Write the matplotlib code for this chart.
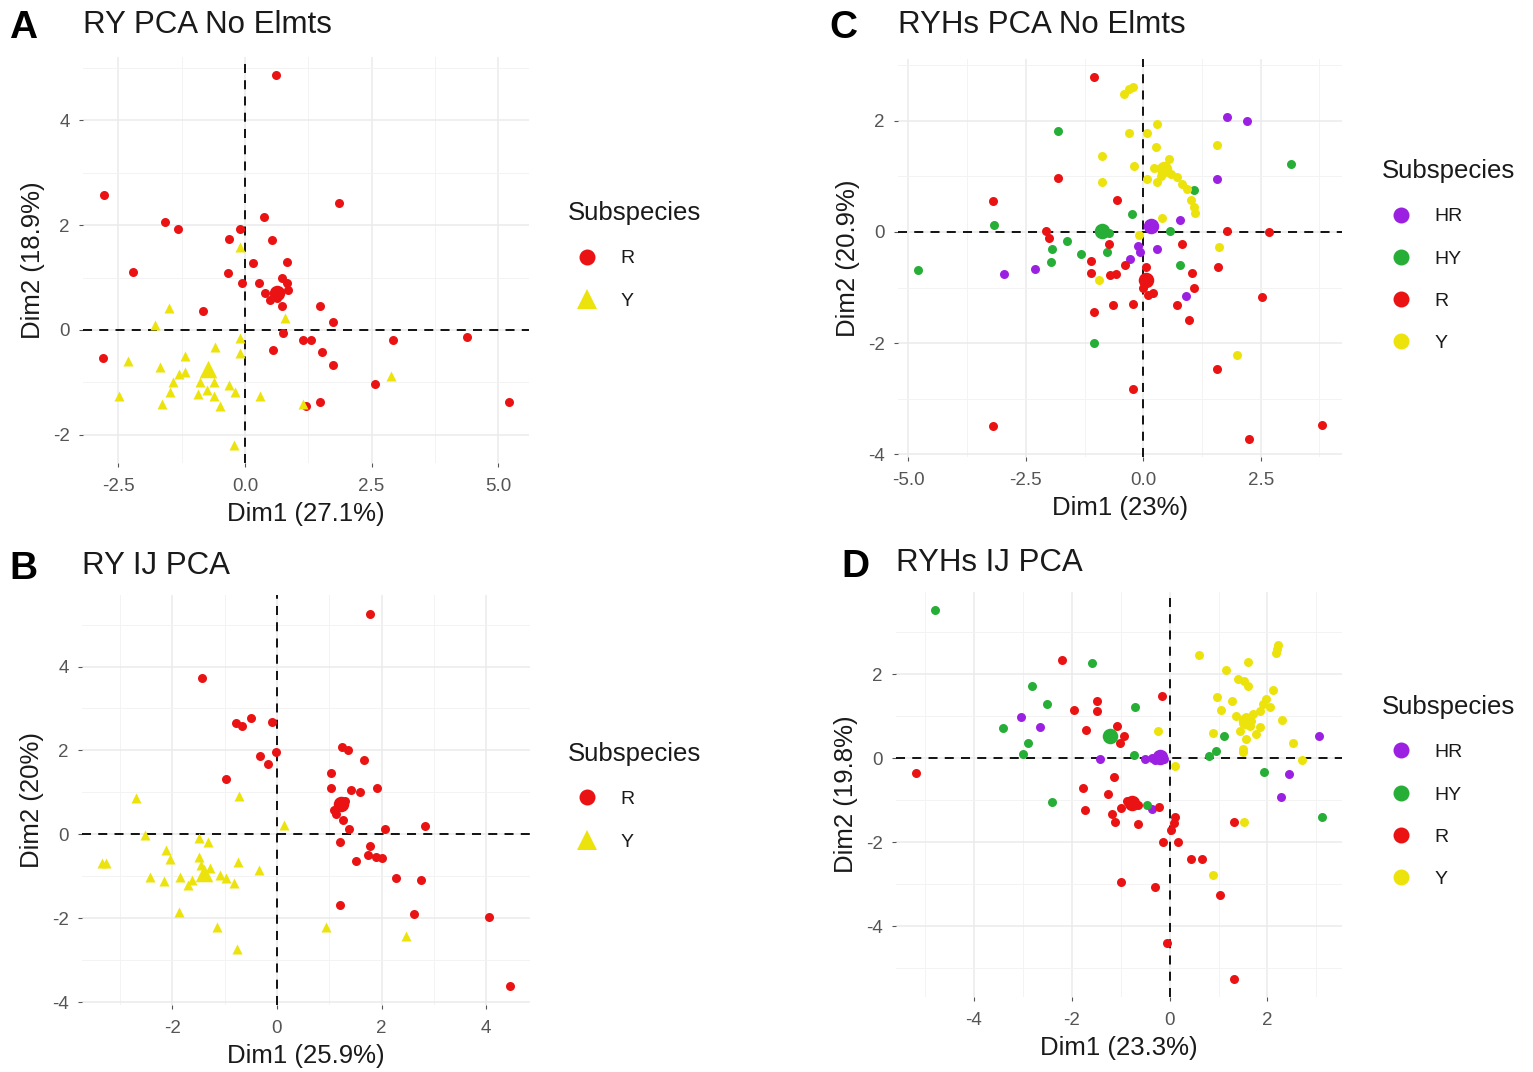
import matplotlib
matplotlib.use("Agg")
import matplotlib.pyplot as plt
from matplotlib.lines import Line2D
from matplotlib.ticker import AutoMinorLocator
import numpy as np

plt.rcParams["font.family"] = ["Liberation Sans", "DejaVu Sans"]
plt.rcParams["axes.unicode_minus"] = False

# ---- A: RY PCA No Elmts ----
a_r_x = [0.61, -2.78, 1.85, 0.37, -1.58, -1.32, -0.09, -0.32, 0.54, -2.21, 0.15, 0.83, -0.33,
         -0.05, 0.27, 0.73, 0.39, 0.61, 0.85, 0.64, 0.73, -0.83, 1.49, 1.73, 0.75, 1.15, 1.30,
         2.92, 4.38, 0.56, 1.53, 1.73, -2.80, 2.56, 1.49, 1.21, 5.21, 0.83, 0.50]
a_r_y = [4.86, 2.58, 2.43, 2.16, 2.06, 1.92, 1.93, 1.74, 1.72, 1.11, 1.27, 1.30, 1.09,
         0.90, 0.90, 0.99, 0.70, 0.68, 0.77, 0.61, 0.45, 0.37, 0.45, 0.16, -0.06, -0.19, -0.19,
         -0.19, -0.13, -0.39, -0.42, -0.68, -0.53, -1.04, -1.37, -1.45, -1.37, 0.89, 0.58]
a_y_x = [-0.09, -1.51, -1.78, 0.80, -0.09, -0.60, -0.09, -1.19, -2.32, -1.68, -1.19, -1.43,
         -0.88, -0.61, -0.31, -0.20, -1.49, -0.92, -0.61, -2.49, 0.29, -0.49, -1.63, 2.89,
         1.15, -0.22, -1.30, -0.75]
a_y_y = [1.58, 0.42, 0.10, 0.23, -0.16, -0.32, -0.45, -0.50, -0.60, -0.70, -0.80, -1.00,
         -1.00, -1.00, -1.06, -1.19, -1.18, -1.22, -1.26, -1.26, -1.26, -1.45, -1.42, -0.88,
         -1.42, -2.19, -0.85, -1.15]
a_means = {"R": (0.64, 0.70), "Y": (-0.73, -0.75)}

# ---- B: RY IJ PCA ----
b_r_x = [1.77, -1.44, -0.79, -0.66, -0.50, -0.09, -0.33, -0.17, -0.01, -0.98, 1.25, 1.36, 1.66,
         1.03, 1.04, 1.42, 1.59, 1.92, 1.09, 1.13, 1.26, 1.37, 2.07, 2.83, 1.21, 1.77, 1.75,
         1.89, 2.01, 1.51, 2.27, 2.76, 1.21, 2.63, 4.06, 4.45, 1.30, 1.18]
b_r_y = [5.26, 3.72, 2.65, 2.59, 2.78, 2.69, 1.88, 1.68, 1.96, 1.32, 2.08, 2.00, 1.78,
         1.46, 1.11, 1.05, 1.01, 1.11, 0.57, 0.49, 0.34, 0.12, 0.14, 0.19, -0.19, -0.27, -0.49,
         -0.53, -0.57, -0.63, -1.05, -1.08, -1.68, -1.89, -1.96, -3.62, 0.80, 0.65]
b_y_x = [-2.70, -0.73, 0.13, -2.53, -1.50, -1.32, -3.34, -3.27, -2.12, -2.05, -1.49, -1.46,
         -0.75, -0.35, -2.43, -2.17, -1.85, -1.09, -0.98, -0.83, -1.62, -1.29, -1.87, -1.15,
         -0.77, 0.93, 2.46, -1.70]
b_y_y = [0.87, 0.91, 0.22, -0.02, -0.08, -0.19, -0.69, -0.69, -0.36, -0.59, -0.53, -0.73,
         -0.66, -0.85, -1.01, -1.12, -1.01, -0.97, -1.05, -1.16, -1.09, -0.81, -1.85, -2.21,
         -2.74, -2.20, -2.43, -1.21]
b_means = {"R": (1.23, 0.73), "Y": (-1.39, -0.93)}

# ---- C: RYHs PCA No Elmts ----
c_hr_x = [1.79, 2.20, 1.57, 0.78, -0.11, -0.06, 0.30, -0.28, -2.31, -2.96, 0.92]
c_hr_y = [2.06, 1.99, 0.95, 0.22, -0.25, -0.37, -0.31, -0.49, -0.66, -0.75, -1.16]
c_hy_x = [-1.82, 1.08, -0.23, -3.18, -0.73, 0.57, -1.62, -1.94, -1.33, -1.96, -0.77, 0.79,
          -4.79, 3.15, -1.05]
c_hy_y = [1.81, 0.75, 0.32, 0.13, -0.02, 0.01, -0.16, -0.31, -0.39, -0.54, -0.36, -0.60,
          -0.68, 1.21, -2.00]
c_r_x = [-1.04, -1.81, -3.19, -0.55, -2.08, -2.01, -0.73, -1.11, -1.11, -0.70, -0.57, -0.38,
         0.05, 0.00, 0.20, 0.10, 0.83, 1.79, 1.60, 1.04, 1.09, 0.71, 0.97, -1.05, -0.65, -0.21,
         2.67, 2.53, 1.57, -0.22, -3.20, 2.25, 3.80]
c_r_y = [2.78, 0.96, 0.55, 0.58, 0.01, -0.11, -0.22, -0.53, -0.74, -0.77, -0.75, -0.60,
         -0.63, -1.00, -1.10, -1.13, -0.21, 0.01, -0.63, -0.74, -1.00, -1.32, -1.58, -1.44,
         -1.32, -1.30, 0.00, -1.17, -2.47, -2.83, -3.48, -3.72, -3.47]
c_y_x = [-0.41, -0.30, -0.21, 0.30, -0.30, 0.09, 0.28, -0.87, 1.57, -0.20, 0.55, 0.23, 0.37,
         0.58, 0.72, 0.09, 0.30, 0.83, 0.94, -0.87, 1.01, 1.08, 1.11, 0.40, 1.61, -0.09, -0.94,
         1.99]
c_y_y = [2.47, 2.56, 2.60, 1.94, 1.78, 1.77, 1.53, 1.37, 1.56, 1.19, 1.30, 1.15, 1.01,
         1.04, 0.98, 0.95, 0.89, 0.86, 0.77, 0.89, 0.57, 0.45, 0.33, 0.25, -0.28, -0.05, -0.87,
         -2.21]
c_means = {"HR": (0.16, 0.10), "HY": (-0.87, 0.01), "R": (0.05, -0.87), "Y": (0.44, 1.12)}

# ---- D: RYHs IJ PCA ----
d_hr_x = [-3.04, -2.65, -1.42, -0.50, -0.36, -0.22, -0.12, -0.36, 2.45, 2.27, 3.05, -0.30]
d_hr_y = [0.97, 0.75, -0.02, -0.02, 0.00, 0.05, -0.03, -1.22, -0.37, -0.92, 0.54, -0.04]
d_hy_x = [-4.79, -1.59, -2.82, -2.51, -0.70, -3.40, -2.89, -3.00, -0.72, -2.41, 1.12, 0.95,
          0.81, 1.92, 3.11, -0.46]
d_hy_y = [3.52, 2.26, 1.73, 1.29, 1.23, 0.73, 0.35, 0.11, 0.08, -1.04, 0.53, 0.18,
          0.06, -0.32, -1.39, -1.12]
d_r_x = [-2.20, -0.16, -1.95, -1.49, -1.49, -1.70, -1.08, -0.93, -1.01, -1.13, -1.77, -1.25,
         -0.88, -0.64, -0.99, -1.18, -1.11, -1.73, -0.65, -0.22, 0.11, 0.08, 0.02, -0.13, 0.17,
         0.43, 0.67, 1.31, -0.99, -0.29, 1.03, -5.18, -0.06, 1.31]
d_r_y = [2.34, 1.49, 1.15, 1.37, 1.13, 0.67, 0.77, 0.53, 0.35, -0.45, -0.70, -0.86,
         -1.02, -1.12, -1.18, -1.34, -1.51, -1.24, -1.56, -1.16, -1.40, -1.54, -1.72, -1.99,
         -1.99, -2.39, -2.39, -1.51, -2.96, -3.07, -3.25, -0.35, -4.40, -5.25]
d_y_x = [0.60, 2.17, 2.19, 2.21, 1.60, 1.15, 1.40, 1.53, 1.60, 0.97, 1.27, 1.05, 2.12, 1.98,
         1.91, 2.05, 1.85, 1.71, 1.57, 1.50, 1.64, 1.43, 1.77, 1.57, 1.50, 1.67, 2.29, 0.88,
         -0.23, 2.52, 2.70, 0.12, 1.53, 0.88, 1.50, 1.85, 1.35]
d_y_y = [2.46, 2.50, 2.60, 2.69, 2.29, 2.09, 1.89, 1.85, 1.73, 1.45, 1.37, 1.15, 1.63, 1.41,
         1.29, 1.21, 1.13, 1.05, 0.97, 0.85, 0.77, 0.65, 0.57, 0.45, 0.22, 0.89, 0.91, 0.59,
         0.65, 0.37, -0.05, -0.18, -1.51, -2.79, 0.14, 0.75, 1.00]
d_means = {"HR": (-0.19, 0.03), "HY": (-1.22, 0.53), "R": (-0.77, -1.06), "Y": (1.57, 0.89)}

colors = {"HR": "#9B20E2", "HY": "#26AE36", "R": "#EA1212", "Y": "#EDE30C"}

W, H = 1533, 1072
fig = plt.figure(figsize=(W / 100, H / 100), dpi=100)


def rect(l, t, r, b):
    return [l / W, 1 - b / H, (r - l) / W, (b - t) / H]


def fxy(x, y):
    return x / W, 1 - y / H


def expand(vals):
    lo, hi = min(vals), max(vals)
    pad = 0.05 * (hi - lo)
    return lo - pad, hi + pad


def panel(box, groups, means, markers, xticks, xfmt, yticks, letter, letter_xy, title, title_y,
          xlabel, ylabel, legend_xy):
    ax = fig.add_axes(rect(*box))
    allx = [v for g in groups.values() for v in g[0]]
    ally = [v for g in groups.values() for v in g[1]]
    ax.set_xlim(*expand(allx))
    ax.set_ylim(*expand(ally))

    ax.set_xticks(xticks)
    ax.set_xticklabels([xfmt.format(t) for t in xticks])
    ax.set_yticks(yticks)
    ax.xaxis.set_minor_locator(AutoMinorLocator(2))
    ax.yaxis.set_minor_locator(AutoMinorLocator(2))
    ax.grid(True, which="major", color="#EBEBEB", lw=1.1, zorder=0)
    ax.grid(True, which="minor", color="#F3F3F3", lw=0.7, zorder=0)
    ax.tick_params(which="major", length=3, width=0.8, color="#555555",
                   labelsize=13.5, labelcolor="#555555")
    ax.tick_params(axis="x", which="major", pad=7.5)
    ax.tick_params(axis="y", which="major", pad=6.5)
    ax.tick_params(which="minor", length=0)
    for s in ax.spines.values():
        s.set_visible(False)
    ax.set_axisbelow(True)

    ax.axhline(0, color="black", lw=1.3, dashes=(5, 4), zorder=1)
    ax.axvline(0, color="black", lw=1.3, dashes=(5, 4), zorder=1)

    for name, (xs, ys) in groups.items():
        m = markers[name]
        ax.scatter(xs, ys, s=42 if m == "o" else 52, marker=m, color=colors[name],
                   linewidths=0, zorder=3)
    for name, (mx, my) in means.items():
        m = markers[name]
        ax.scatter([mx], [my], s=125 if m == "o" else 160, marker=m, color=colors[name],
                   linewidths=0, zorder=4)

    ax.set_xlabel(xlabel, fontsize=18.5, labelpad=5, color="#1A1A1A")
    ax.set_ylabel(ylabel, fontsize=18.5, labelpad=6, color="#1A1A1A")

    fig.text(*fxy(*letter_xy), letter, fontsize=28, fontweight="bold", va="center", ha="left")
    fig.text(*fxy(box[0], title_y), title, fontsize=22.5, va="center", ha="left", color="#1A1A1A")

    handles = [Line2D([], [], ls="none", marker=markers[n],
                      markersize=11.5 if markers[n] == "o" else 15,
                      color=colors[n], markeredgewidth=0, label=n) for n in groups]
    leg = fig.legend(handles=handles, title="Subspecies", loc="upper left",
                     bbox_to_anchor=fxy(*legend_xy), frameon=False, fontsize=14,
                     title_fontsize=18.5, labelspacing=1.27, handletextpad=0.7,
                     borderpad=0, borderaxespad=0, alignment="left")
    for txt in leg.get_texts():
        txt.set_color("#1A1A1A")
    leg.get_title().set_color("#1A1A1A")
    return ax


panel((83, 57, 529, 463),
      {"R": (a_r_x, a_r_y), "Y": (a_y_x, a_y_y)}, a_means, {"R": "o", "Y": "^"},
      [-2.5, 0.0, 2.5, 5.0], "{:.1f}", [-2, 0, 2, 4],
      "A", (9, 28), "RY PCA No Elmts", 25, "Dim1 (27.1%)", "Dim2 (18.9%)", (568, 201))

panel((82, 595, 530, 1005),
      {"R": (b_r_x, b_r_y), "Y": (b_y_x, b_y_y)}, b_means, {"R": "o", "Y": "^"},
      [-2, 0, 2, 4], "{:g}", [-4, -2, 0, 2, 4],
      "B", (9, 569), "RY IJ PCA", 566, "Dim1 (25.9%)", "Dim2 (20%)", (568, 742))

circ = {"HR": "o", "HY": "o", "R": "o", "Y": "o"}
panel((898, 59, 1342, 457),
      {"HR": (c_hr_x, c_hr_y), "HY": (c_hy_x, c_hy_y), "R": (c_r_x, c_r_y), "Y": (c_y_x, c_y_y)},
      c_means, circ, [-5.0, -2.5, 0.0, 2.5], "{:.1f}", [-4, -2, 0, 2],
      "C", (829, 28), "RYHs PCA No Elmts", 25, "Dim1 (23%)", "Dim2 (20.9%)", (1382, 159))

panel((896, 592, 1342, 997),
      {"HR": (d_hr_x, d_hr_y), "HY": (d_hy_x, d_hy_y), "R": (d_r_x, d_r_y), "Y": (d_y_x, d_y_y)},
      d_means, circ, [-4, -2, 0, 2], "{:g}", [-4, -2, 0, 2],
      "D", (841, 567), "RYHs IJ PCA", 563, "Dim1 (23.3%)", "Dim2 (19.8%)", (1382, 695))

fig.savefig("out.png", dpi=100, facecolor="white")
